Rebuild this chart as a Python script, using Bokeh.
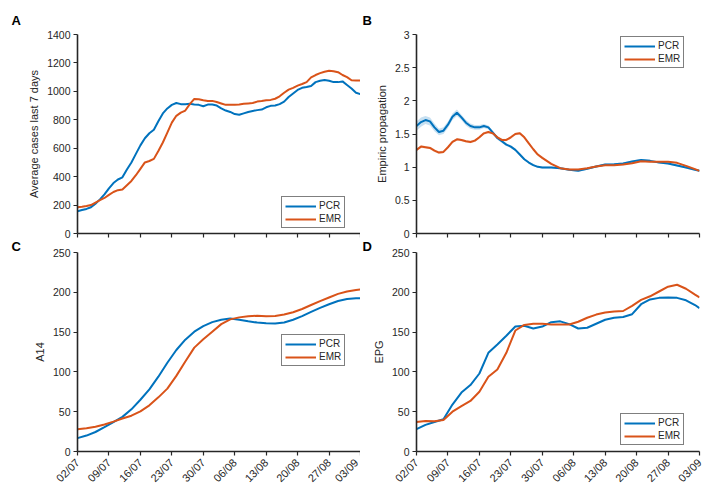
from bokeh.plotting import figure
from bokeh.models import Range1d, FixedTicker, Legend, LegendItem, Title
from bokeh.layouts import column, row
from bokeh.embed import file_html
from bokeh.resources import INLINE

# ---------------- data ----------------
date_ticks = [0, 7, 14, 21, 28, 35, 42, 49, 56, 63]
date_labels = ["02/07", "09/07", "16/07", "23/07", "30/07", "06/08", "13/08", "20/08", "27/08", "03/09"]

# Panel A: average cases last 7 days (daily)
days_a = list(range(64))
pcr_a = [157, 165, 173, 185, 210, 240, 275, 318, 355, 380, 395, 450, 500, 560, 620, 670,
         705, 730, 790, 845, 880, 905, 918, 910, 910, 912, 908, 905, 895, 907, 907, 900,
         880, 865, 855, 840, 835, 845, 855, 862, 868, 872, 888, 898, 900, 910, 928, 960,
         985, 1010, 1025, 1030, 1038, 1065, 1075, 1080, 1075, 1065, 1065, 1070, 1045, 1020, 990, 980]
emr_a = [185, 188, 193, 200, 218, 235, 250, 272, 292, 305, 310, 340, 370, 410, 455, 500,
         510, 525, 580, 640, 710, 780, 828, 850, 865, 910, 947, 945, 938, 932, 933, 925,
         915, 905, 905, 905, 908, 912, 915, 918, 928, 932, 938, 940, 948, 965, 990, 1012,
         1025, 1040, 1052, 1065, 1098, 1115, 1128, 1138, 1145, 1142, 1135, 1115, 1100, 1078, 1076, 1076]

# Panel B: empiric propagation
days_b = list(range(29)) + list(range(30, 63, 2)) + [63]
pcr_b = [1.62, 1.68, 1.71, 1.69, 1.60, 1.53, 1.55, 1.64, 1.76, 1.82, 1.75, 1.67, 1.62, 1.60, 1.60,
         1.62, 1.60, 1.52, 1.44, 1.39, 1.34, 1.31, 1.26, 1.19, 1.12, 1.07, 1.03, 1.005, 0.995,
         0.995, 0.985, 0.96, 0.945, 0.975, 1.01, 1.04, 1.045, 1.055, 1.085, 1.11, 1.095, 1.07,
         1.055, 1.025, 0.995, 0.96, 0.945]
pcr_b_ci = [0.07, 0.07, 0.06, 0.06, 0.06, 0.05, 0.05, 0.05, 0.05, 0.05, 0.04, 0.04, 0.04, 0.035,
            0.035, 0.03, 0.03, 0.03, 0.025, 0.025, 0.02, 0.02, 0.02, 0.02, 0.02, 0.015, 0.015,
            0.015, 0.015, 0.015, 0.015, 0.015, 0.015, 0.015, 0.015, 0.015, 0.015, 0.015, 0.015,
            0.015, 0.015, 0.015, 0.015, 0.015, 0.015, 0.015, 0.015]
emr_b = [1.26, 1.31, 1.30, 1.29, 1.25, 1.22, 1.23, 1.30, 1.38, 1.42, 1.41, 1.39, 1.38, 1.40, 1.45,
         1.51, 1.53, 1.51, 1.45, 1.41, 1.41, 1.45, 1.50, 1.51, 1.45, 1.36, 1.27, 1.19, 1.14,
         1.05, 0.985, 0.965, 0.965, 0.985, 1.01, 1.03, 1.03, 1.04, 1.06, 1.09, 1.08, 1.08,
         1.08, 1.065, 1.02, 0.97, 0.945]
emr_b_ci = [0.02] * 29 + [0.01] * 18

# Panels C (A14) and D (EPG)
days_cd = list(range(0, 63, 2)) + [63]
pcr_c = [16.8, 20, 24.5, 30.5, 37, 43.5, 53, 65, 78, 94, 111.5, 127.5, 140.5, 150.5, 157.5, 162.5,
         165.5, 167, 165.5, 163.5, 162, 161, 160.8, 162, 165.5, 170, 175.5, 180.5, 185, 189,
         191.5, 192.6, 192.6]
emr_c = [28, 29.3, 31, 34, 37.5, 41.5, 45, 50.5, 58, 68, 79, 95, 113, 130.5, 141, 150.5, 160,
         166, 168.5, 170, 170.5, 170, 170.3, 172, 175, 179, 184, 189, 193.5, 198, 201, 203, 203.5]
pcr_d = [28, 33.5, 37, 40.6, 59, 74, 83.5, 98, 124, 134.5, 145.5, 157, 158, 154.5, 157, 162.5,
         163.5, 160, 154.5, 155.5, 160.5, 165.5, 168, 169, 172.5, 185, 191, 193, 193.5, 193,
         190, 184, 180]
emr_d = [37, 38.2, 38, 39.5, 50, 57, 63.5, 75, 94, 103, 124, 152, 159, 160.4, 160.4, 159.5,
         159.5, 159.5, 163, 168, 172, 174.5, 175.8, 176.5, 183, 190.5, 195, 201, 207, 209.5,
         204.5, 197, 193.5]

yticks_a = [0, 200, 400, 600, 800, 1000, 1200, 1400]
yticks_b = [0, 0.5, 1, 1.5, 2, 2.5, 3]
yticks_b_labels = ["0", "0.5", "1", "1.5", "2", "2.5", "3"]
yticks_cd = [0, 50, 100, 150, 200, 250]

# ---------------- style ----------------
BLUE = "#0072BD"
ORANGE = "#D95319"
AX = "#262626"
FONT = "Liberation Sans"


def make_fig(letter, letter_offset, letter_standoff, ylabel, ymax, yticks, ytick_labels, bottom_row,
             left_border, right_border, top_border, bottom_border):
    p = figure(frame_width=283, frame_height=199,
               x_range=Range1d(0, 63), y_range=Range1d(0, ymax),
               output_backend="svg", toolbar_location=None, title=None,
               min_border_left=left_border, min_border_right=right_border,
               min_border_top=top_border, min_border_bottom=bottom_border)
    p.add_layout(Title(text=letter, align="left", offset=letter_offset, standoff=letter_standoff,
                       text_font=FONT, text_font_style="bold", text_font_size="13px",
                       text_color="black"), "above")
    p.outline_line_color = None
    p.xgrid.visible = False
    p.ygrid.visible = False
    p.background_fill_color = "white"
    p.border_fill_color = "white"
    for ax in (p.xaxis[0], p.yaxis[0]):
        ax.axis_line_color = AX
        ax.axis_line_width = 1.6
        ax.major_tick_line_color = AX
        ax.major_tick_line_width = 1.2
        ax.major_tick_out = 4
        ax.major_tick_in = 0
        ax.minor_tick_line_color = None
        ax.major_label_text_font = FONT
        ax.major_label_text_color = AX
        ax.major_label_text_font_size = "10.5px"
        ax.major_label_standoff = 3
        ax.axis_label_text_font = FONT
        ax.axis_label_text_font_size = "11px"
        ax.axis_label_text_font_style = "normal"
        ax.axis_label_text_color = AX
        ax.axis_label_standoff = 4
    p.xaxis.ticker = FixedTicker(ticks=date_ticks)
    if bottom_row:
        p.xaxis.major_label_overrides = {t: l for t, l in zip(date_ticks, date_labels)}
        p.xaxis.major_label_orientation = 0.785398
        p.xaxis.major_label_text_font_size = "11px"
        p.xaxis.major_label_standoff = 5
    else:
        p.xaxis.major_label_overrides = {t: "" for t in date_ticks}
        p.xaxis.major_label_text_font_size = "0px"
        p.xaxis.major_label_standoff = 0
    p.yaxis.ticker = FixedTicker(ticks=yticks)
    p.yaxis.major_label_overrides = {t: l for t, l in zip(yticks, ytick_labels)}
    p.yaxis.axis_label = ylabel
    return p


def add_legend(p, r1, r2, loc):
    lg = Legend(items=[LegendItem(label="PCR", renderers=[r1]), LegendItem(label="EMR", renderers=[r2])],
                location=loc)
    lg.border_line_color = "black"
    lg.border_line_width = 1.5
    lg.background_fill_color = "white"
    lg.background_fill_alpha = 1
    lg.label_text_font = FONT
    lg.label_text_font_size = "10px"
    lg.label_text_color = AX
    lg.glyph_width = 31
    lg.glyph_height = 10
    lg.label_height = 10
    lg.label_standoff = 3
    lg.padding = 3
    lg.spacing = 2
    lg.margin = 0
    p.add_layout(lg)


# Panel A
pA = make_fig("A", -66, 13, "Average cases last 7 days", 1400, yticks_a, [str(t) for t in yticks_a], False,
              77, 0, 34, 5)
rA1 = pA.line(days_a, pcr_a, line_color=BLUE, line_width=2)
rA2 = pA.line(days_a, emr_a, line_color=ORANGE, line_width=2)
add_legend(pA, rA1, rA2, (204, 5))

# Panel B
pB = make_fig("B", -54, 13, "Empiric propagation", 3, yticks_b, yticks_b_labels, False, 56, 9, 34, 5)
pB.varea(x=days_b, y1=[v - c for v, c in zip(pcr_b, pcr_b_ci)], y2=[v + c for v, c in zip(pcr_b, pcr_b_ci)],
         fill_color=BLUE, fill_alpha=0.22)
pB.varea(x=days_b, y1=[v - c for v, c in zip(emr_b, emr_b_ci)], y2=[v + c for v, c in zip(emr_b, emr_b_ci)],
         fill_color=ORANGE, fill_alpha=0.2)
rB1 = pB.line(days_b, pcr_b, line_color=BLUE, line_width=2)
rB2 = pB.line(days_b, emr_b, line_color=ORANGE, line_width=2)
add_legend(pB, rB1, rB2, (204, 165))

# Panel C
pC = make_fig("C", -66, -3, "A14", 250, yticks_cd, [str(t) for t in yticks_cd], True, 77, 0, 12, 36)
rC1 = pC.line(days_cd, pcr_c, line_color=BLUE, line_width=2)
rC2 = pC.line(days_cd, emr_c, line_color=ORANGE, line_width=2)
add_legend(pC, rC1, rC2, (204, 85))

# Panel D
pD = make_fig("D", -54, -3, "EPG", 250, yticks_cd, [str(t) for t in yticks_cd], True, 56, 9, 12, 36)
rD1 = pD.line(days_cd, pcr_d, line_color=BLUE, line_width=2)
rD2 = pD.line(days_cd, emr_d, line_color=ORANGE, line_width=2)
add_legend(pD, rD1, rD2, (204, 6))

layout = column(row(pA, pB, spacing=0), row(pC, pD, spacing=0), spacing=0)
open("out.html", "w").write(file_html(layout, INLINE))
